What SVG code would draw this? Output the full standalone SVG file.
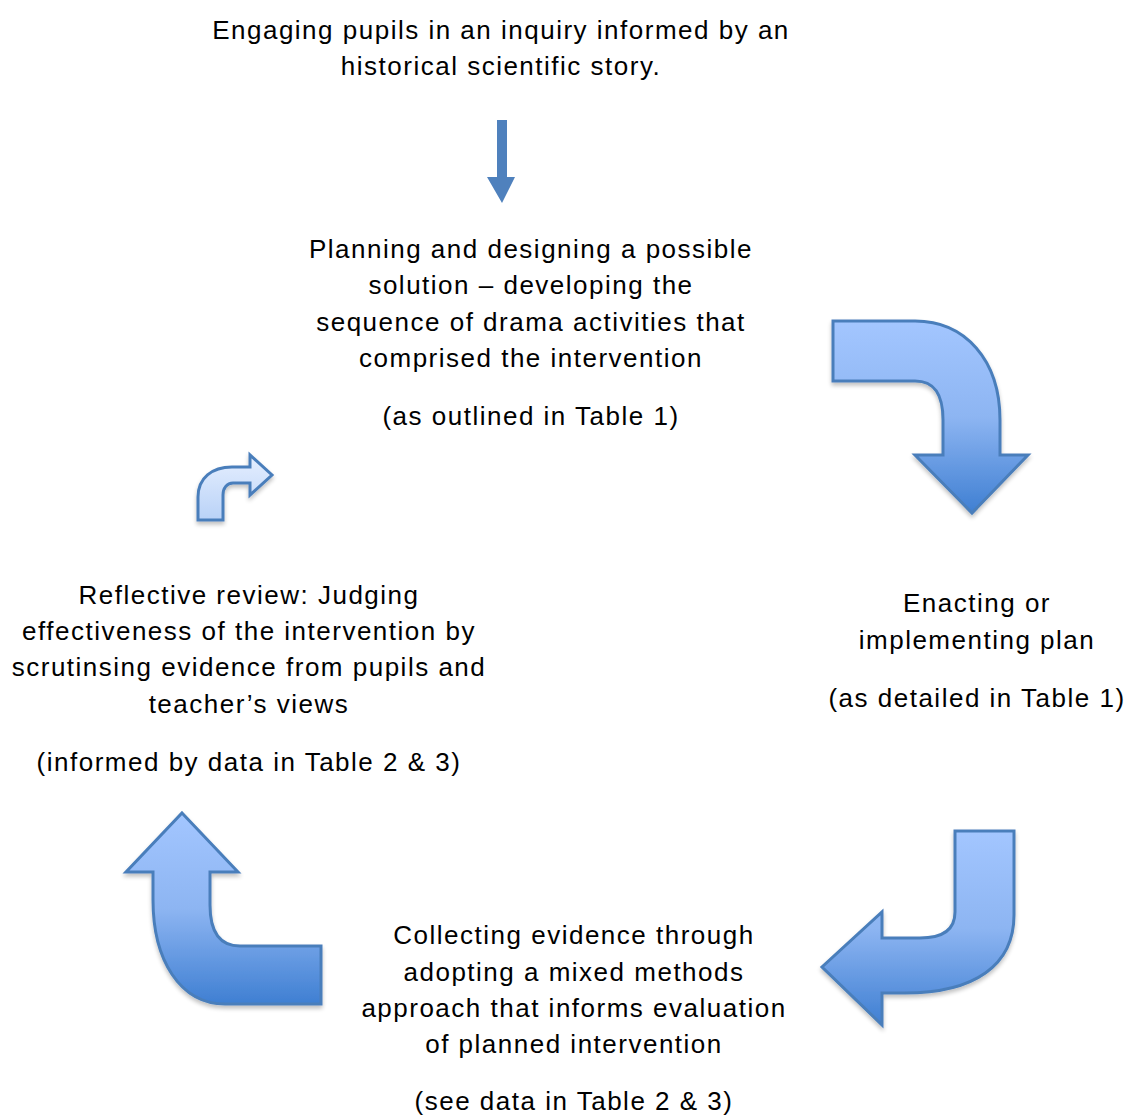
<svg xmlns="http://www.w3.org/2000/svg" width="1128" height="1115" viewBox="0 0 1128 1115">
<style>
text{font-family:"Liberation Sans",Arial,sans-serif;font-size:26px;fill:#000;text-anchor:middle;letter-spacing:1.5px}
.big{fill:url(#g1);stroke:#4a7ebb;stroke-width:3;stroke-linejoin:miter;filter:url(#sh)}
.small{fill:url(#g2);stroke:#4a7ebb;stroke-width:3;filter:url(#sh)}
</style>
<defs>
<linearGradient id="g1" x1="0" y1="0" x2="0" y2="1">
<stop offset="0" stop-color="#a3c6ff"/>
<stop offset="0.5" stop-color="#8db5f2"/>
<stop offset="1" stop-color="#3f7fd2"/>
</linearGradient>
<linearGradient id="g2" x1="0" y1="0" x2="0" y2="1">
<stop offset="0" stop-color="#e6efff"/>
<stop offset="1" stop-color="#b9d2f7"/>
</linearGradient>
<filter id="sh" x="-20%" y="-20%" width="140%" height="140%">
<feGaussianBlur in="SourceAlpha" stdDeviation="2"/>
<feOffset dx="0" dy="3" result="b"/>
<feComponentTransfer><feFuncA type="linear" slope="0.25"/></feComponentTransfer>
<feMerge><feMergeNode/><feMergeNode in="SourceGraphic"/></feMerge>
</filter>
</defs>
<g id="connectors">
<path id="arrow-down" d="M497,120 L507,120 L507,177 L515,177 L502,203 L487,177 L497,177 Z" fill="#4f81bd"/>
<path id="arrow-topright" class="big" d="M833,321 L915,321 C965,321 1000,360 1000,420 L1000,455 L1028,455 L972,513 L915,455 L943,455 L943,420 C943,395 935,381 915,381 L833,381 Z"/>
<path id="arrow-bottomright" class="big" d="M955,831 L1014,831 L1014,915 C1014,965 975,993 905,993 L882,993 L882,1025 L822,967 L882,912 L882,938 L920,938 C942,938 955,930 955,912 Z"/>
<path id="arrow-bottomleft" class="big" d="M182,813 L238,872 L210,872 L210,905 C210,930 218,946 240,946 L321,946 L321,1004 L225,1004 C180,1004 153,960 153,900 L153,872 L126,872 Z"/>
<path id="arrow-small" class="small" d="M198,520 L198,497 C198,478 212,467 232,467 L250,467 L250,455 L272,475 L250,495 L250,483 L233,483 C227,483 223,488 223,495 L223,520 Z"/>
</g>
<g id="node-start">
<text x="501" y="39">Engaging pupils in an inquiry informed by an</text>
<text x="501" y="75">historical scientific story.</text>
</g>
<g id="node-planning">
<text x="531" y="258">Planning and designing a possible</text>
<text x="531" y="294">solution – developing the</text>
<text x="531" y="331">sequence of drama activities that</text>
<text x="531" y="367">comprised the intervention</text>
<text x="531" y="425">(as outlined in Table 1)</text>
</g>
<g id="node-enacting">
<text x="977" y="612">Enacting or</text>
<text x="977" y="649">implementing plan</text>
<text x="977" y="707">(as detailed in Table 1)</text>
</g>
<g id="node-collecting">
<text x="574" y="944">Collecting evidence through</text>
<text x="574" y="981">adopting a mixed methods</text>
<text x="574" y="1017">approach that informs evaluation</text>
<text x="574" y="1053">of planned intervention</text>
<text x="574" y="1110">(see data in Table 2 &amp; 3)</text>
</g>
<g id="node-reflective">
<text x="249" y="604">Reflective review: Judging</text>
<text x="249" y="640">effectiveness of the intervention by</text>
<text x="249" y="676">scrutinsing evidence from pupils and</text>
<text x="249" y="713">teacher’s views</text>
<text x="249" y="771">(informed by data in Table 2 &amp; 3)</text>
</g>
</svg>
